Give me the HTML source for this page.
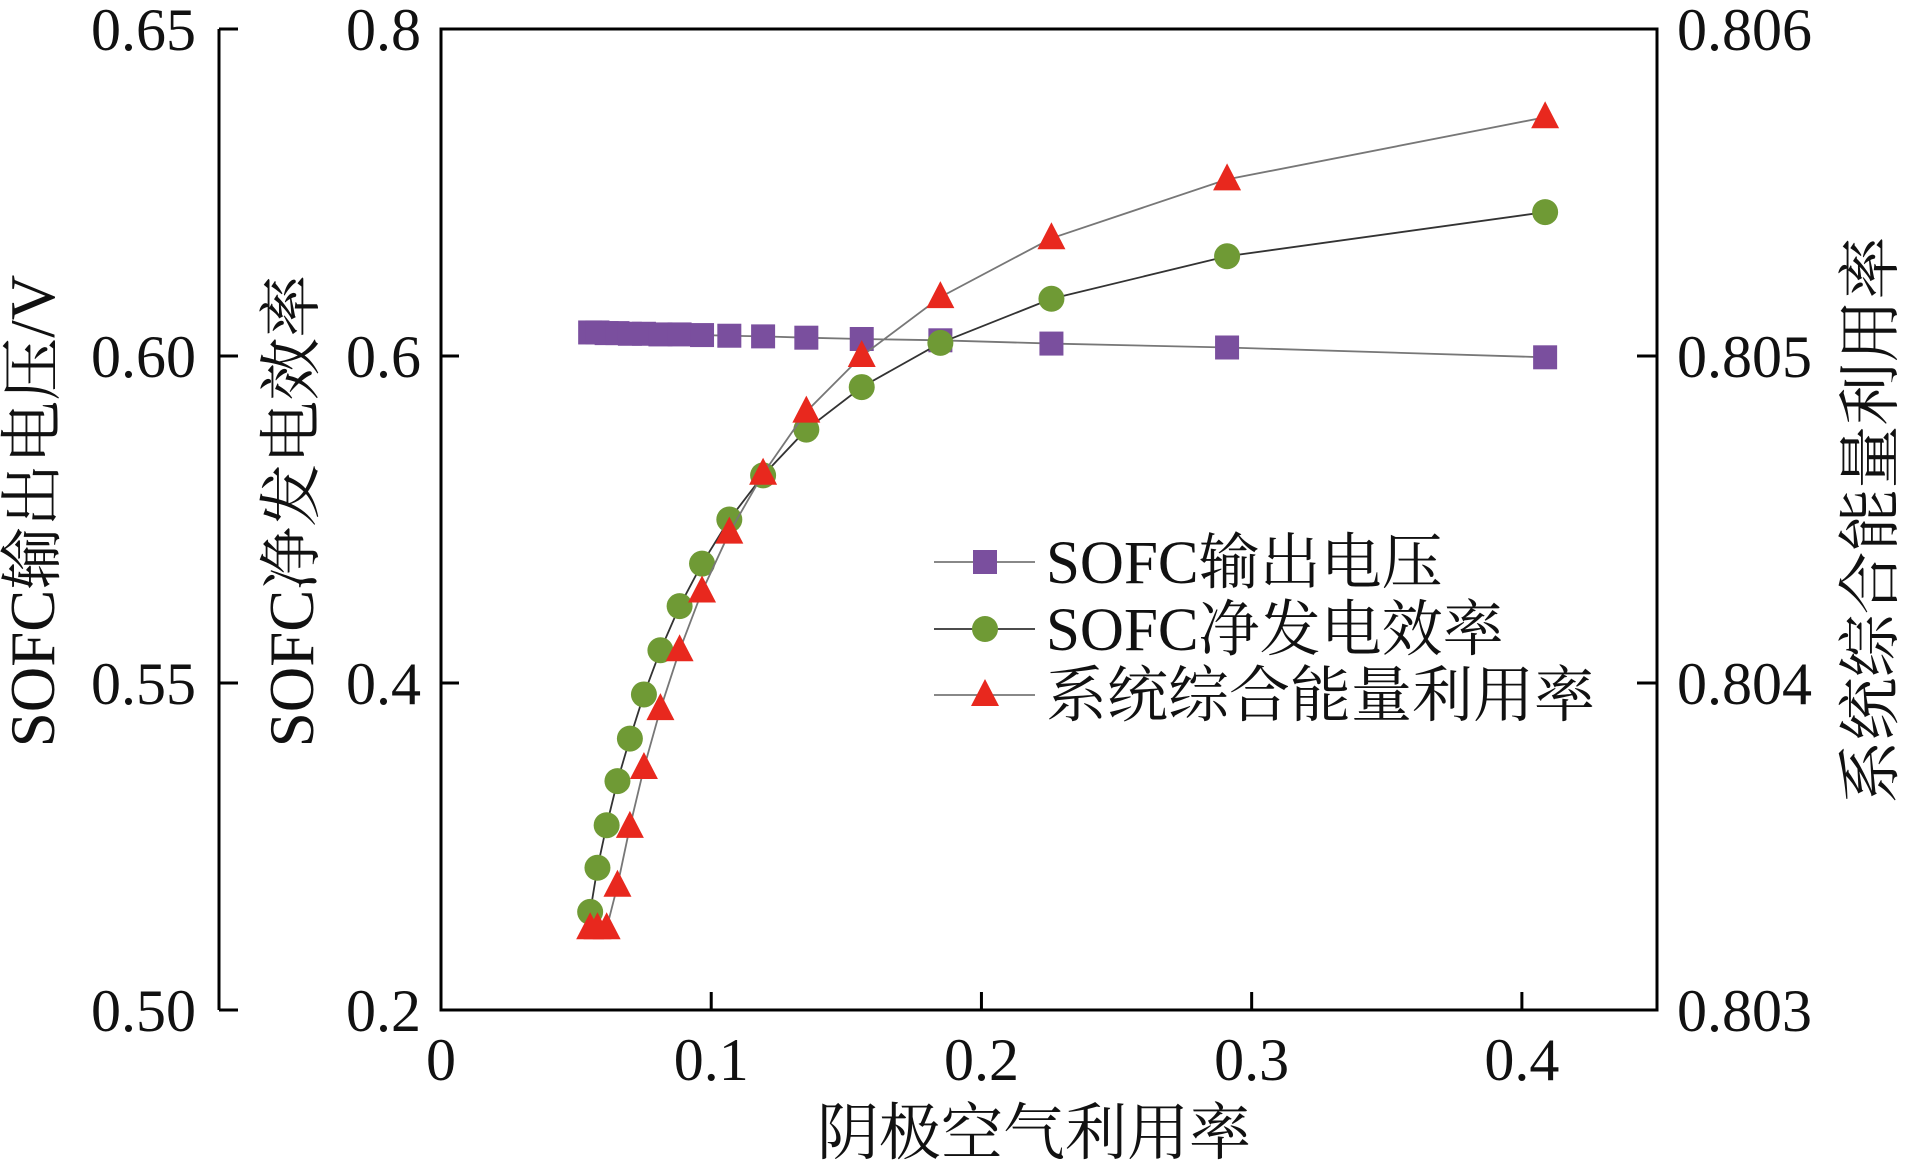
<!DOCTYPE html>
<html><head><meta charset="utf-8"><style>body{margin:0;background:#fff}svg{display:block}text{font-family:"Liberation Serif","Noto Serif CJK SC",serif;fill:#111}</style></head>
<body>
<svg id="c" width="1908" height="1173" xmlns="http://www.w3.org/2000/svg"></svg>
<script>
const xs=[0.0552,0.0579,0.0613,0.0653,0.0699,0.0751,0.0812,0.0883,0.0966,0.1067,0.1192,0.1352,0.1557,0.1848,0.2259,0.2909,0.4086];
const voltage=[0.6036,0.6036,0.6035,0.6035,0.6034,0.6034,0.6033,0.6033,0.6032,0.6031,0.6030,0.6028,0.6026,0.6024,0.6019,0.6013,0.5998];
const efficiency=[0.260,0.287,0.313,0.340,0.366,0.393,0.420,0.447,0.473,0.500,0.527,0.555,0.581,0.608,0.635,0.661,0.688];
const utilization=[0.80325,0.80325,0.80325,0.80338,0.80356,0.80374,0.80392,0.80410,0.80428,0.80446,0.80464,0.80483,0.80500,0.80518,0.80536,0.80554,0.80573];
const xTicks=[0,0.1,0.2,0.3,0.4];
const leftTicks=["0.50","0.55","0.60","0.65"];
const midTicks=["0.2","0.4","0.6","0.8"];
const rightTicks=["0.803","0.804","0.805","0.806"];
const L=441,R=1657,T=29,B=1010;
const sx=v=>L+v/0.45*(R-L);
const yL=v=>B-(v-0.50)/0.15*(B-T);
const yM=v=>B-(v-0.2)/0.6*(B-T);
const yR=v=>B-(v-0.803)/0.003*(B-T);
const svg=document.getElementById('c');const NS='http://www.w3.org/2000/svg';
function mk(t,a,p){const e=document.createElementNS(NS,t);for(const k in a)e.setAttribute(k,a[k]);(p||svg).appendChild(e);return e;}
let e;
e=mk('rect',{x:L,y:T,width:R-L,height:B-T,fill:'none',stroke:'#000','stroke-width':3});


e=mk('line',{x1:219,y1:T,x2:219,y2:B,stroke:'#000','stroke-width':3});


leftTicks.forEach(t=>{const y=yL(+t);
mk('line',{x1:219,y1:y,x2:238,y2:y,stroke:'#000','stroke-width':3});
e=mk('text',{x:196,y:y+21,'text-anchor':'end','font-size':60});e.textContent=t;

});
midTicks.forEach(t=>{const y=yM(+t);
mk('line',{x1:L,y1:y,x2:L+18,y2:y,stroke:'#000','stroke-width':3});
e=mk('text',{x:421,y:y+21,'text-anchor':'end','font-size':60});e.textContent=t;

});
rightTicks.forEach(t=>{const y=yR(+t);
mk('line',{x1:R-20,y1:y,x2:R,y2:y,stroke:'#000','stroke-width':3});
e=mk('text',{x:1677,y:y+21,'text-anchor':'start','font-size':60});e.textContent=t;

});
xTicks.forEach(t=>{const x=sx(t);
mk('line',{x1:x,y1:B,x2:x,y2:B-18,stroke:'#000','stroke-width':3});
e=mk('text',{x:x,y:1080,'text-anchor':'middle','font-size':60});e.textContent=t===0?'0':String(t);

});
e=mk('text',{x:0,y:0,'text-anchor':'middle','font-size':63,transform:'translate(54,511) rotate(-90)'});e.textContent='SOFC输出电压/V';


e=mk('text',{x:0,y:0,'text-anchor':'middle','font-size':63,transform:'translate(313,511) rotate(-90)'});e.textContent='SOFC净发电效率';


e=mk('text',{x:0,y:0,'text-anchor':'middle','font-size':63,transform:'translate(1892,520) rotate(-90)'});e.textContent='系统综合能量利用率';


e=mk('text',{x:1034,y:1154,'text-anchor':'middle','font-size':62});e.textContent='阴极空气利用率';


function marker(kind,x,y,g){
 if(kind==='sq')return mk('rect',{x:x-12,y:y-12,width:24,height:24,fill:'#7a4f9e'},g);
 if(kind==='ci')return mk('circle',{cx:x,cy:y,r:13,fill:'#6f9a35'},g);
 return mk('polygon',{points:`${x},${y-16} ${x+14},${y+11} ${x-14},${y+11}`,fill:'#e8281e'},g);
}
const series=[[voltage,yL,'sq','#777','voltage-series'],[efficiency,yM,'ci','#333','efficiency-series'],[utilization,yR,'tr','#777','utilization-series']];
series.forEach(([vals,f,k,col,name])=>{
 const g=mk('g',{});
 
 
 mk('polyline',{points:xs.map((x,i)=>sx(x)+','+f(vals[i])).join(' '),fill:'none',stroke:col,'stroke-width':1.8},g);
 xs.forEach((x,i)=>{const m=marker(k,sx(x),f(vals[i]),g);
 
 });
});
const leg=[['sq','#777','SOFC输出电压',562],['ci','#333','SOFC净发电效率',629],['tr','#777','系统综合能量利用率',695]];
leg.forEach(([k,col,t,y])=>{
 const g=mk('g',{});
 
 
 mk('line',{x1:934,y1:y,x2:1035,y2:y,stroke:col,'stroke-width':1.8},g);
 marker(k,985,y,g);
 const tx=mk('text',{x:1046,y:y+21,'font-size':61},g);tx.textContent=t;
});
</script>
</body></html>
